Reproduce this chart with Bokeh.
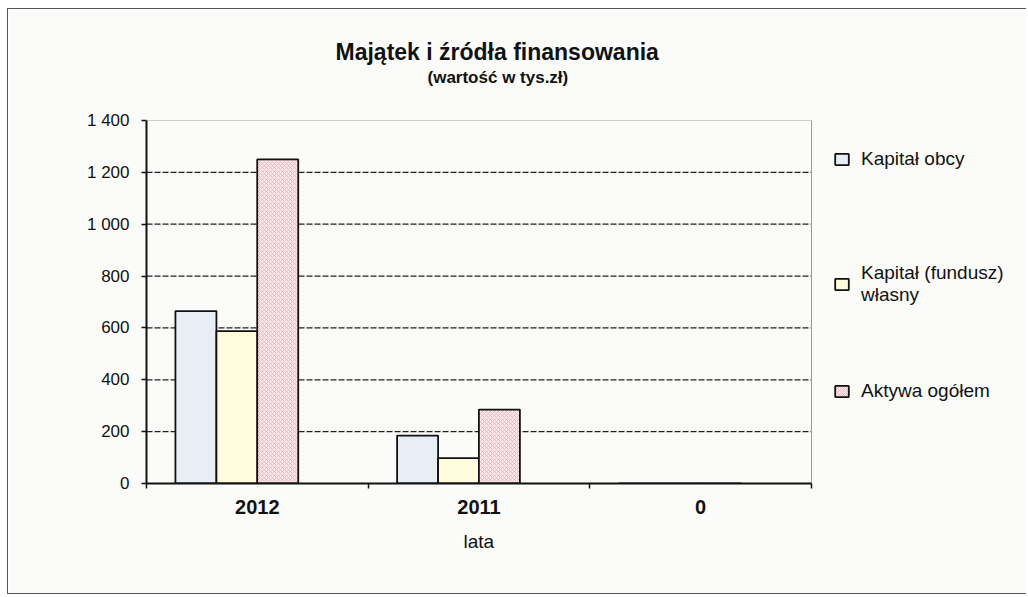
import numpy as np
from bokeh.plotting import figure
from bokeh.models import (ColumnDataSource, FixedTicker, Legend, LegendItem,
                          Title, Range1d)
from bokeh.transform import dodge
from bokeh.embed import file_html
from bokeh.resources import INLINE

# ---- data ----
categories = ["2012", "2011", "0"]
kapital_obcy = [665, 185, 0]
kapital_wlasny = [588, 98, 0]
aktywa_ogolem = [1250, 285, 0]
series_names = ["Kapitał obcy", "Kapitał (fundusz)\nwłasny", "Aktywa ogółem"]
y_ticks = [0, 200, 400, 600, 800, 1000, 1200, 1400]
y_tick_labels = ["0", "200", "400", "600", "800", "1 000", "1 200", "1 400"]
title_text = "Majątek i źródła finansowania"
subtitle_text = "(wartość w tys.zł)"
x_axis_title = "lata"

FONT = "Liberation Sans"
BG = "#fbfcf9"

# layout: canvas width, left border, and the pixel width of the bar area
W, H = 1019, 586
BORDER_LEFT = 138
DATA_PX = 665
n = len(categories)
x_end = n * (W - BORDER_LEFT) / DATA_PX   # frame extends under the legend

pos = np.arange(n) + 0.5
source = ColumnDataSource(dict(x=pos, obcy=kapital_obcy,
                               wlasny=kapital_wlasny, aktywa=aktywa_ogolem))

p = figure(width=W, height=H, title=None,
           x_range=Range1d(0, x_end), y_range=Range1d(0, y_ticks[-1]),
           output_backend="svg", toolbar_location=None,
           min_border_left=BORDER_LEFT, min_border_right=0,
           min_border_top=111, min_border_bottom=112,
           background_fill_color=BG, border_fill_color=BG)
p.styles = {"border-left": "1px solid #555", "border-top": "1px solid #555",
            "border-bottom": "1px solid #555",
            "margin-left": "7px", "margin-top": "8px"}
p.outline_line_color = None
p.xgrid.visible = False
p.ygrid.visible = False

# titles: spacer next to the frame, then subtitle, then main title
spacer = Title(text=" ", text_font_size="1px", standoff=31)
p.add_layout(spacer, "above")
sub = Title(text=subtitle_text, align="left", offset=281, standoff=0,
            text_font=FONT, text_font_size="17px", text_font_style="bold",
            text_color="#111")
p.add_layout(sub, "above")
main = Title(text=title_text, align="left", offset=189, standoff=2,
             text_font=FONT, text_font_size="23px", text_font_style="bold",
             text_color="#111")
p.add_layout(main, "above")

# dashed gridlines and thin grey plot-area border, limited to the bar area
grid_y = y_ticks[1:-1]
p.segment(x0=[0] * len(grid_y), x1=[n] * len(grid_y), y0=grid_y, y1=grid_y,
          line_color="#222", line_width=1.3, line_dash="6 2")
p.segment(x0=[0, n], x1=[n, n], y0=[y_ticks[-1], 0],
          y1=[y_ticks[-1], y_ticks[-1]], line_color="#9a9a9a", line_width=1)

# bars
bw = 0.185
r1 = p.vbar(x=dodge("x", -0.277), top="obcy", width=bw, source=source,
            fill_color="#e9eef6", line_color="#111", line_width=1.8)
r2 = p.vbar(x=dodge("x", -0.092), top="wlasny", width=bw, source=source,
            fill_color="#fefcdc", line_color="#111", line_width=1.8)
r3 = p.vbar(x=dodge("x", 0.092), top="aktywa", width=bw, source=source,
            fill_color="#f8e6e9", line_color="#111", line_width=1.8,
            hatch_pattern="x", hatch_color="#e7a3b3", hatch_scale=4,
            hatch_weight=0.8, hatch_alpha=0.8)

# axes
xa = p.xaxis[0]
xa.bounds = (0, n)
xa.ticker = FixedTicker(ticks=list(pos), minor_ticks=list(range(n + 1)))
xa.major_label_overrides = {float(x): c for x, c in zip(pos, categories)}
xa.major_tick_line_color = None
xa.major_tick_out = 0
xa.minor_tick_line_color = "#111"
xa.minor_tick_line_width = 1.5
xa.minor_tick_out = 5
xa.minor_tick_in = 0
xa.axis_line_width = 2
xa.axis_line_color = "#111"
xa.major_label_text_font = FONT
xa.major_label_text_font_size = "20px"
xa.major_label_text_font_style = "bold"
xa.major_label_text_color = "#111"
xa.major_label_standoff = 11

# x axis title, centred under the bar area
xt = Title(text=x_axis_title, align="left", offset=317, standoff=28,
           vertical_align="top", text_font=FONT, text_font_size="19px",
           text_font_style="normal", text_color="#111")
p.add_layout(xt, "below")

ya = p.yaxis[0]
ya.ticker = FixedTicker(ticks=y_ticks)
ya.major_label_overrides = {t: l for t, l in zip(y_ticks, y_tick_labels)}
ya.major_tick_line_color = "#111"
ya.major_tick_line_width = 1.5
ya.major_tick_out = 5
ya.major_tick_in = 0
ya.minor_tick_line_color = None
ya.axis_line_width = 2
ya.axis_line_color = "#111"
ya.major_label_text_font = FONT
ya.major_label_text_font_size = "17px"
ya.major_label_text_color = "#111"
ya.major_label_standoff = 12

# legend entries to the right of the bar area, each placed separately
legend_bottoms = [313, 177, 81]
for nm, r, lb in zip(series_names, [r1, r2, r3], legend_bottoms):
    lg = Legend(items=[LegendItem(label=nm, renderers=[r])],
                location=(DATA_PX + 22, lb), padding=0, margin=0,
                border_line_color=None, background_fill_alpha=0,
                label_text_font=FONT, label_text_font_size="19px",
                label_text_color="#111",
                glyph_width=17, glyph_height=14, label_standoff=11,
                spacing=0)
    p.add_layout(lg)

open("out.html", "w").write(file_html(p, INLINE))
